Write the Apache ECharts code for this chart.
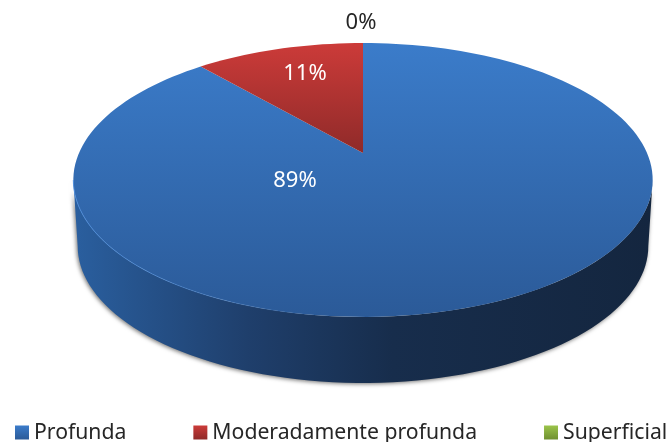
<!DOCTYPE html>
<html>
<head>
<meta charset="utf-8">
<style>
  html, body { margin: 0; background: #fff; }
  #chart { width: 669px; height: 442px; }
</style>
<script src="https://cdn.jsdelivr.net/npm/echarts@6/dist/echarts.min.js"></script>
</head>
<body>
<div id="chart"></div>
<script>
const categories = ["Profunda", "Moderadamente profunda", "Superficial"];
const shares = [88.6, 11.4, 0];

const FONT = '"Noto Sans", sans-serif';
const CX = 363, APEX_Y = 153;
// perspective of the disc: far side is squeezed, so the apex is not mid-ellipse
const P = 0.197, A = 284, B = 101.5;
const DEPTH = 66, BOTTOM_SCALE = 0.985;
// rim angles where the disc is widest, the wall shows between them
const WALL_FROM = 101.4, WALL_TO = 258.6;

const labelPos = [[295, 181], [305, 74], [361, 23]];
const labelFill = ["#fff", "#fff", "#262626"];
const tops = [
  ["#3b7cca", "#2b5a98"],
  ["#cc3b39", "#8f2a29"],
  ["#9bc44a", "#6f8f30"]
];

function rim(deg) {
  const t = deg * Math.PI / 180;
  const u = Math.sin(t), v = Math.cos(t), w = 1 + P * v;
  return [CX + A * u / w, (APEX_Y - B * v) / w];
}

function arc(from, to) {
  const pts = [];
  const n = Math.max(2, Math.ceil(Math.abs(to - from) / 2));
  for (let i = 0; i <= n; i++) {
    pts.push(rim(from + (to - from) * i / n));
  }
  return pts;
}

function vertical(c) {
  return new echarts.graphic.LinearGradient(0, 0, 0, 1, [
    { offset: 0, color: c[0] },
    { offset: 1, color: c[1] }
  ]);
}

function renderSlice(idx) {
  return function (params, api) {
    const share = api.value(0);
    const start = shares.slice(0, idx).reduce((a, b) => a + b, 0) * 3.6;
    const end = start + share * 3.6;
    const children = [];

    if (share > 0) {
      const a0 = Math.max(start, WALL_FROM), a1 = Math.min(end, WALL_TO);
      if (a1 > a0) {
        const front = arc(a0, a1);
        const lower = front.map(p => [CX + (p[0] - CX) * BOTTOM_SCALE, p[1] + DEPTH]).reverse();
        children.push({
          type: "polygon",
          shape: { points: front.concat(lower) },
          style: {
            fill: new echarts.graphic.LinearGradient(0, 0, 1, 0, [
              { offset: 0, color: "#2a5f9f" },
              { offset: 0.3, color: "#1f3f6c" },
              { offset: 0.55, color: "#172d4c" },
              { offset: 1, color: "#14263f" }
            ]),
            shadowBlur: 4,
            shadowColor: "rgba(0,0,0,0.55)",
            shadowOffsetX: -1,
            shadowOffsetY: 1
          }
        });
      }
      children.push({
        type: "polygon",
        shape: { points: [[CX, APEX_Y]].concat(arc(start, end)) },
        style: {
          fill: new echarts.graphic.LinearGradient(0, 43, 0, idx === 0 ? 317 : APEX_Y, [
            { offset: 0, color: tops[idx][0] },
            { offset: 1, color: tops[idx][1] }
          ], true)
        }
      });
      if (a1 > a0) {
        // thin highlight along the lit part of the rim
        children.push({
          type: "polyline",
          shape: { points: arc(185, WALL_TO) },
          style: {
            fill: null,
            lineWidth: 1,
            stroke: new echarts.graphic.LinearGradient(0, 0, 1, 0, [
              { offset: 0, color: "rgba(75,140,220,0.9)" },
              { offset: 1, color: "rgba(75,140,220,0)" }
            ])
          }
        });
      }
    }
    children.push({
      type: "text",
      z2: 10,
      style: {
        text: Math.round(share) + "%",
        x: labelPos[idx][0],
        y: labelPos[idx][1],
        fill: labelFill[idx],
        font: "22px " + FONT,
        textAlign: "center",
        textVerticalAlign: "middle"
      }
    });
    return { type: "group", children: children };
  };
}

const chart = echarts.init(document.getElementById("chart"));

chart.setOption({
  animation: false,
  backgroundColor: "#fff",
  legend: {
    left: 15,
    top: 422,
    icon: "rect",
    itemWidth: 14,
    itemHeight: 14,
    itemGap: 67,
    padding: 0,
    selectedMode: false,
    textStyle: { color: "#262626", fontSize: 21.2, fontFamily: FONT },
    data: categories.map((name, i) => ({
      name: name,
      itemStyle: { color: vertical(tops[i]) }
    }))
  },
  series: categories.map((name, i) => ({
    type: "custom",
    name: name,
    coordinateSystem: "none",
    silent: true,
    z: i === 0 ? 2 : 3,
    data: [shares[i]],
    renderItem: renderSlice(i)
  }))
});
</script>
</body>
</html>
